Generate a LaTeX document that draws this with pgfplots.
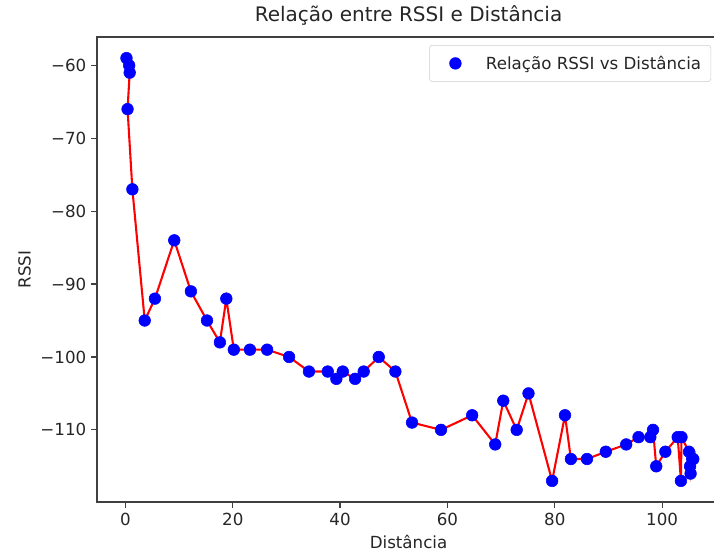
\documentclass[border=0pt]{standalone}
\usepackage{pgfplots}
\pgfplotsset{compat=1.18}
\usepackage{fontspec}
\setmainfont{DejaVu Sans}
\pgfplotstableread{
x y
0.2 -59
0.7 -60
0.8 -61
0.4 -66
1.3 -77
3.6 -95
5.5 -92
9.1 -84
12.2 -91
15.2 -95
17.6 -98
18.8 -92
20.2 -99
23.2 -99
26.4 -99
30.5 -100
34.2 -102
37.7 -102
39.3 -103
40.5 -102
42.8 -103
44.4 -102
47.2 -100
50.3 -102
53.4 -109
58.8 -110
64.6 -108
68.9 -112
70.4 -106
72.9 -110
75.1 -105
79.5 -117
81.9 -108
83.0 -114
86.0 -114
89.5 -113
93.3 -112
95.6 -111
97.8 -111
98.3 -110
98.9 -115
100.6 -113
102.9 -111
103.5 -117
103.6 -111
105.0 -113
105.3 -116
105.8 -114
105.2 -115
105.6 -114
}\datatable
\begin{document}
\begin{tikzpicture}
\begin{axis}[
  name=ax,
  scale only axis,
  width=448.6pt, height=334.8pt,
  xmin=-5.3, xmax=110.8,
  ymin=-119.9, ymax=-56.1,
  xtick={0,20,40,60,80,100},
  ytick={-110,-100,-90,-80,-70,-60},
  yticklabels={−110,−100,−90,−80,−70,−60},
  /pgf/number format/assume math mode=true,
  tick align=outside,
  tick pos=left,
  major tick length=4.2pt,
  axis line style={black!75, line width=0.9pt},
  every tick/.style={black!75, line width=0.9pt},
  tick label style={font=\fontsize{12}{14}\selectfont, text=black!85},
  xlabel={Distância},
  ylabel={RSSI},
  label style={font=\fontsize{12}{14}\selectfont, text=black!85},
  title={Relação entre RSSI e Distância},
  title style={font=\fontsize{14.4}{17}\selectfont, text=black!85, yshift=-1pt},
  legend style={at={(1,1)}, anchor=north east, xshift=-6.5pt, yshift=-5.8pt,
    draw=black!20, rounded corners=2pt, font=\fontsize{12}{14}\selectfont,
    text=black!85, inner xsep=5pt, inner ysep=5.5pt, column sep=0pt},
  legend cell align=left,
]
\addplot[only marks, mark=*, mark size=4.2pt, color=blue, mark options={draw=blue, fill=blue},
  legend image code/.code={\path[draw=none] (-13.6pt,0) -- (20pt,0); \draw plot coordinates {(0pt,0pt)};}]
  table[x=x,y=y] {\datatable};
\addlegendentry{Relação RSSI vs Distância}
\addplot[red, line width=1.5pt, no marks, forget plot] table[x=x,y=y] {\datatable};
\end{axis}
\pgfresetboundingbox
\path[use as bounding box] ([xshift=-69.8pt,yshift=-40.3pt]ax.south west) rectangle ([xshift=444.2pt,yshift=26.6pt]ax.north west);
\end{tikzpicture}
\end{document}
